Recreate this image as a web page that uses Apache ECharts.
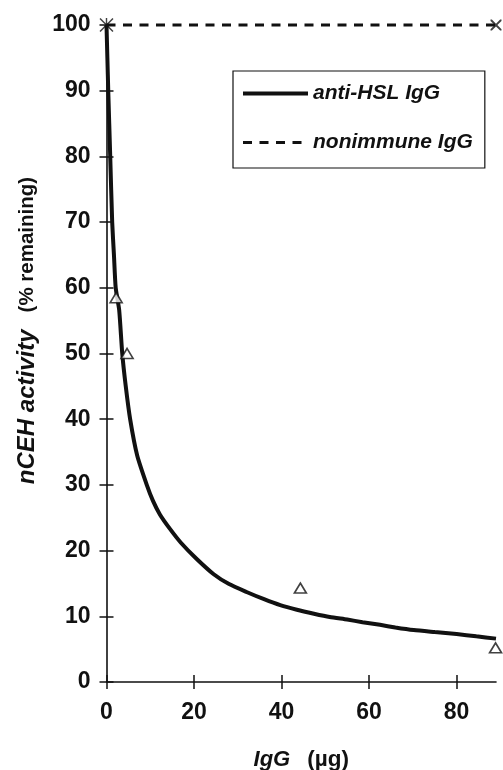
<!DOCTYPE html>
<html>
<head>
<meta charset="utf-8">
<script src="https://cdn.jsdelivr.net/npm/echarts@6/dist/echarts.min.js"></script>
<style>
html,body{margin:0;padding:0;background:#fff;}
#c{width:503px;height:770px;}
</style>
</head>
<body>
<div id="c"></div>
<script>
// ---- data ----
var xTicks = [0, 20, 40, 60, 80];
var yTicks = [0, 10, 20, 30, 40, 50, 60, 70, 80, 90, 100];

// anti-HSL IgG fitted curve
var curveX = [0, 0.2, 0.4, 0.85, 1.3, 1.7, 2.1, 2.9, 3.6, 4.4, 5.4, 7.0, 9.2, 10.6, 12.2, 14.5, 17, 20.5, 24.5, 28, 32, 36, 39.7, 43.5, 47.4, 51, 55, 58.5, 62.5, 66, 70.2, 75, 80, 84.5, 89];
var curveY = [100, 95, 90, 80, 70, 65, 60, 56.6, 50, 45, 40, 34.5, 30, 27.6, 25.5, 23.3, 21.2, 18.8, 16.4, 14.9, 13.7, 12.6, 11.7, 11.0, 10.4, 9.9, 9.5, 9.1, 8.7, 8.3, 7.9, 7.6, 7.3, 6.95, 6.6];

// anti-HSL IgG measured points (open triangles)
var triX = [2.2, 4.7, 44.3, 88.9];
var triY = [58.5, 50, 14.3, 5.2];

// nonimmune IgG
var nonX = [0, 89];
var nonY = [100, 100];

function zip(a, b) { return a.map(function (v, i) { return [v, b[i]]; }); }

var FONT = 'Liberation Sans';
var INK = '#111';

var crossPath = 'path://M0,0 L2.5,0 L10,7.5 L17.5,0 L20,0 L20,2.5 L12.5,10 L20,17.5 L20,20 L17.5,20 L10,12.5 L2.5,20 L0,20 L0,17.5 L7.5,10 L0,2.5 Z';
var starPath = 'path://M0,1.5 L1.5,0 L10,8.5 L18.5,0 L20,1.5 L11.5,10 L20,18.5 L18.5,20 L10,11.5 L1.5,20 L0,18.5 L8.5,10 Z M9,0 L11,0 L11,20 L9,20 Z';

var chart = echarts.init(document.getElementById('c'), null, { renderer: 'canvas' });

var baseX = {
  type: 'value', min: 0, max: 89, gridIndex: 0,
  splitLine: { show: false }
};
var baseY = {
  type: 'value', min: 0, max: 100, interval: 10, gridIndex: 0,
  splitLine: { show: false }
};

chart.setOption({
  backgroundColor: '#fff',
  animation: false,
  textStyle: { fontFamily: FONT, color: INK },
  grid: { left: 106.5, right: 7, top: 25, bottom: 88, containLabel: false, outerBoundsMode: 'none' },
  legend: {
    left: 233, top: 71,
    orient: 'vertical',
    padding: [12, 12, 15, 8],
    itemWidth: 65, itemHeight: 20, itemGap: 28,
    borderColor: INK, borderWidth: 1.2, borderRadius: 0,
    backgroundColor: '#fff',
    itemStyle: { opacity: 0 },
    textStyle: { fontFamily: FONT, fontSize: 21, fontWeight: 'bold', fontStyle: 'italic', color: INK },
    data: [
      { name: 'anti-HSL IgG', lineStyle: { width: 4 } },
      { name: 'nonimmune IgG', lineStyle: { width: 3 } }
    ]
  },
  xAxis: [
    Object.assign({}, baseX, {
      name: '{i|IgG}{s|}{n|(µg)}',
      nameLocation: 'middle', nameGap: 66,
      nameTextStyle: {
        rich: {
          i: { fontFamily: FONT, fontSize: 22, fontWeight: 'bold', fontStyle: 'italic', color: INK },
          s: { width: 17 },
          n: { fontFamily: FONT, fontSize: 22.5, fontWeight: 'bold', color: INK }
        }
      },
      axisLine: { show: true, onZero: false, lineStyle: { color: INK, width: 1.6 } },
      axisTick: { show: true, inside: false, length: 7, lineStyle: { color: INK, width: 1.5 }, customValues: xTicks },
      axisLabel: { show: true, margin: 19, fontFamily: FONT, fontSize: 23, fontWeight: 'bold', color: INK, customValues: xTicks }
    }),
    Object.assign({}, baseX, {
      position: 'bottom',
      axisLine: { show: false, onZero: false },
      axisTick: { show: true, inside: true, length: 7, lineStyle: { color: INK, width: 1.5 }, customValues: xTicks },
      axisLabel: { show: false }
    })
  ],
  yAxis: [
    Object.assign({}, baseY, {
      position: 'left',
      name: '{i|nCEH activity}{s|}{n|(% remaining)}',
      nameLocation: 'middle', nameGap: 67, nameRotate: 90,
      nameTextStyle: {
        padding: [0, 0, 0, 46],
        rich: {
          i: { fontFamily: FONT, fontSize: 24, fontWeight: 'bold', fontStyle: 'italic', color: INK },
          s: { width: 17 },
          n: { fontFamily: FONT, fontSize: 20.5, fontWeight: 'bold', color: INK }
        }
      },
      axisLine: { show: true, onZero: false, lineStyle: { color: INK, width: 1.6 } },
      axisTick: { show: true, inside: false, length: 7, lineStyle: { color: INK, width: 1.5 } },
      axisLabel: { show: true, margin: 16, fontFamily: FONT, fontSize: 23, fontWeight: 'bold', color: INK }
    }),
    Object.assign({}, baseY, {
      position: 'left',
      axisLine: { show: false, onZero: false },
      axisTick: { show: true, inside: true, length: 7, lineStyle: { color: INK, width: 1.5 } },
      axisLabel: { show: false }
    })
  ],
  series: [
    {
      name: 'nonimmune IgG',
      type: 'line',
      data: zip(nonX, nonY),
      symbol: 'none',
      clip: false,
      lineStyle: { color: INK, width: 2.8, type: [9, 7.5] },
      itemStyle: { color: INK },
      z: 3
    },
    {
      name: 'anti-HSL IgG',
      type: 'line',
      data: zip(curveX, curveY),
      symbol: 'none',
      smooth: 0.2,
      clip: false,
      lineStyle: { color: INK, width: 4 },
      itemStyle: { color: INK },
      z: 4
    },
    {
      name: 'anti-HSL points',
      type: 'scatter',
      data: zip(triX, triY),
      symbol: 'triangle',
      symbolSize: [12, 10],
      clip: false,
      itemStyle: { color: '#fff', borderColor: INK, borderWidth: 1.6 },
      z: 5
    },
    {
      name: 'nonimmune start',
      type: 'scatter',
      data: [[nonX[0], nonY[0]]],
      symbol: starPath,
      symbolSize: 14,
      clip: false,
      itemStyle: { color: INK },
      z: 6
    },
    {
      name: 'nonimmune end',
      type: 'scatter',
      data: [[nonX[1], nonY[1]]],
      symbol: crossPath,
      symbolSize: 11,
      clip: false,
      itemStyle: { color: INK },
      z: 6
    }
  ]
});
</script>
</body>
</html>
